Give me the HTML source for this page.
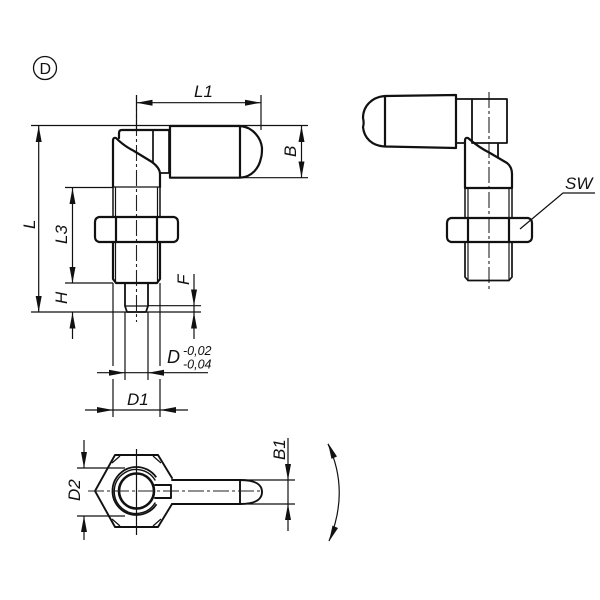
<!DOCTYPE html>
<html><head><meta charset="utf-8"><style>
html,body{margin:0;padding:0;background:#fff}
svg{display:block;filter:blur(.35px)}
text{font-family:"Liberation Sans",sans-serif;font-style:italic;fill:#111;font-size:17px}
.t{fill:none;stroke:#111;stroke-width:1.2}
.k{fill:none;stroke:#111;stroke-width:2.2;stroke-linejoin:round;stroke-linecap:round}
.c{fill:none;stroke:#222;stroke-width:1.1;stroke-dasharray:16 3 3 3}
</style></head><body>
<svg width="600" height="600" viewBox="0 0 600 600" xmlns="http://www.w3.org/2000/svg">
<defs>
<path id="a" d="M0 0L-16 -3V3Z" fill="#111"/>
</defs>
<rect width="600" height="600" fill="#fff"/>

<!-- D mark -->
<circle cx="45" cy="68" r="11.5" fill="none" stroke="#111" stroke-width="1.3"/>
<text x="39.5" y="74" style="font-style:normal;font-size:16px">D</text>

<!-- LEFT VIEW -->
<path class="c" d="M136.5 95V322"/>
<path class="t" d="M31 125.5H308M136.5 95V130M261 95V130M136.5 102.7H261M240 177.7H308"/>
<use href="#a" transform="translate(136.5,102.7) rotate(180)"/>
<use href="#a" transform="translate(261,102.7)"/>
<use href="#a" transform="translate(301.5,126) rotate(-90)"/>
<use href="#a" transform="translate(301.5,177.5) rotate(90)"/>
<path class="t" d="M301.5 126V177.5"/>
<!-- handle -->
<path class="k" d="M119 138V133Q119 130 122 130H169M170 126H240M170 126V177.7H240M240 126V177.7M240 126C253 127 261 138 262 148C262 152 262 155 261 158C259 168 252 177 240 177.7"/>
<path class="k" d="M153 130V163M169 130V173H160" style="stroke-width:1.7"/>
<!-- body -->
<path class="k" d="M113 187V141Q113 137 116 138C122 144 128 148 134 151L152 162Q160 168 160 174V187"/>
<path class="k" d="M113 187H160" style="stroke-width:1.3"/>
<path class="t" d="M65 187.5H113M115.5 187V217M157.5 187V217"/>
<path class="k" d="M113 187V217M160 187V217" style="stroke-width:1.5"/>
<!-- nut -->
<path class="k" d="M99 217H174Q178 218 178 222V237Q178 241 174 242H99Q95 241 95 237V222Q95 218 99 217ZM116 217V242M157 217V242"/>
<!-- lower thread -->
<path class="k" d="M113 242V279L116 283H157L160 279V242"/>
<path class="t" d="M115.5 242V282M157.5 242V282"/>
<!-- pin -->
<path class="k" d="M125 283V306L127 312H146L148 306V283" style="stroke-width:1.8"/>
<path class="k" d="M125 306H148" style="stroke-width:1.3"/>
<!-- dims -->
<path class="t" d="M38.7 125.5V312M31 312H201M65 283H113M148 305.7H201M72.5 187.5V283M72.5 312V339M194 274V339"/>
<use href="#a" transform="translate(38.7,126) rotate(-90)"/>
<use href="#a" transform="translate(38.7,312) rotate(90)"/>
<use href="#a" transform="translate(72.5,188) rotate(-90)"/>
<use href="#a" transform="translate(72.5,283) rotate(90)"/>
<use href="#a" transform="translate(72.5,312.5) rotate(-90)"/>
<use href="#a" transform="translate(194,305.5) rotate(90)"/>
<use href="#a" transform="translate(194,312.5) rotate(-90)"/>
<path class="t" d="M113 283V366M113 379V417M160 283V366M160 379V417M125 312V380M148 312V380M97 372.7H208M85 410H188"/>
<use href="#a" transform="translate(125,372.7)"/>
<use href="#a" transform="translate(148,372.7) rotate(180)"/>
<use href="#a" transform="translate(113,410)"/>
<use href="#a" transform="translate(160,410) rotate(180)"/>

<text x="194" y="97">L1</text>
<text transform="translate(296,157) rotate(-90)">B</text>
<text transform="translate(35,229) rotate(-90)">L</text>
<text transform="translate(67,244) rotate(-90)">L3</text>
<text transform="translate(67,304) rotate(-90)">H</text>
<text transform="translate(189,285) rotate(-90)">F</text>
<text x="167" y="363" style="font-size:18px">D</text>
<text x="183" y="355" style="font-size:12.5px">-0,02</text>
<text x="183" y="368.5" style="font-size:12.5px">-0,04</text>
<text x="127" y="405">D1</text>

<!-- RIGHT VIEW -->
<path class="c" d="M489 92V292"/>
<path class="k" d="M385 96L456 95V148L385 146.5ZM385 96C372 97 363 106 363 118C364 122 364 124 363 127C364 138 372 146 385 146.5"/>
<path class="k" d="M456 99H507V143H472M456 143H464M472 99V143M498 143V158" style="stroke-width:1.8"/>
<path class="k" d="M465 188V141Q465 137 468 138C476 145 484 150 490 153L507 163Q512 167 512 174V188H465"/>
<path class="k" d="M465 188V218M512 188V218" style="stroke-width:1.5"/>
<path class="t" d="M468 188V218M509 188V218"/>
<path class="k" d="M451 218H528Q532 219 532 223V237Q532 241 528 242H451Q447 241 447 237V223Q447 219 451 218ZM468 218V242M509 218V242"/>
<path class="k" d="M465 242V277L468 280.5H509L512 277V242" style="stroke-width:1.7"/>
<path class="t" d="M468 242V280M509 242V280"/>
<path class="t" d="M520 229L563 193H595"/>
<text x="565" y="189">SW</text>

<!-- BOTTOM VIEW -->
<path class="k" d="M172 478L158 455H115L95 491L115 527H158L172 504" style="stroke-width:1.9"/>
<path class="t" d="M112 463L120 456M161 463L153 456M112 519L120 526M161 519L153 526"/>
<circle cx="136.5" cy="491" r="24" fill="none" stroke="#111" stroke-width="1.8" stroke-dasharray="122 28.8" stroke-dashoffset="-14"/>
<path class="k" d="M155 480A22 22 0 1 0 155 503" style="stroke-width:1.4"/>
<circle cx="136.5" cy="491" r="17.5" class="k" style="stroke-width:2.6"/>
<path class="k" d="M172 480H240V504H172M240 480C252 480 262 483 262 492C262 501 252 504 240 504M155 485H171V498H155M240 480V504" style="stroke-width:1.9"/>
<path class="c" d="M88 491H262"/>
<path class="t" d="M136.5 449V535M77 468H125M77 516H125M84 440V468M84 516V540M288 438V531M240 480H295M240 504H295"/>
<use href="#a" transform="translate(84,468) rotate(90)"/>
<use href="#a" transform="translate(84,516) rotate(-90)"/>
<use href="#a" transform="translate(288,480) rotate(90)"/>
<use href="#a" transform="translate(288,504) rotate(-90)"/>
<path class="t" d="M328 444Q350 491 329 541"/>
<use href="#a" transform="translate(328,443) rotate(-113)"/>
<use href="#a" transform="translate(329,541.5) rotate(113)"/>
<text transform="translate(80,501) rotate(-90)">D2</text>
<text transform="translate(285,460) rotate(-90)">B1</text>
</svg>
</body></html>
